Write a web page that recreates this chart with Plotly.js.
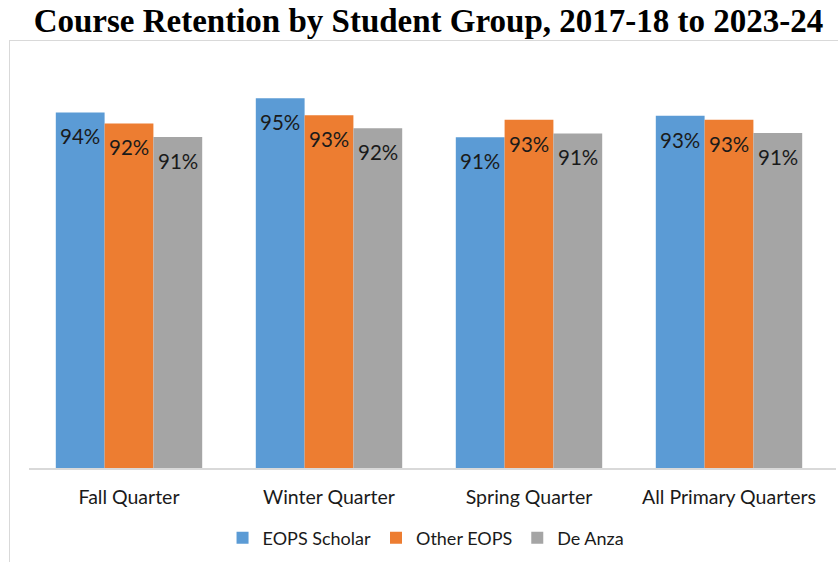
<!DOCTYPE html>
<html>
<head>
<meta charset="utf-8">
<script src="https://cdn.plot.ly/plotly-3.0.1.min.js"></script>
<style>
  html, body { margin: 0; padding: 0; background: #ffffff; }
  #wrap { position: relative; width: 838px; height: 562px; overflow: hidden; }
  #frame { position: absolute; left: 9px; top: 40px; width: 840px; height: 540px;
           border-left: 1.5px solid #d9d9d9; border-top: 1.5px solid #d9d9d9; }
  #chart { position: absolute; left: 0; top: 0; width: 838px; height: 562px; }
</style>
</head>
<body>
<div id="wrap">
  <div id="frame"></div>
  <div id="chart"></div>
</div>
<script>
// ---- data ----
const categories = ["Fall Quarter", "Winter Quarter", "Spring Quarter", "All Primary Quarters"];
const seriesNames = ["EOPS Scholar", "Other EOPS", "De Anza"];
const eopsScholar = [93.73, 95.38, 90.82, 93.33];
const otherEops   = [92.44, 93.41, 92.86, 92.86];
const deAnza      = [90.86, 91.88, 91.26, 91.33];
const seriesColors = ["#5B9BD5", "#ED7D31", "#A5A5A5"];

const allSeries = [eopsScholar, otherEops, deAnza];

const traces = allSeries.map((vals, i) => ({
  type: "bar",
  name: seriesNames[i],
  x: categories,
  y: vals,
  marker: { color: seriesColors[i], line: { width: 0 } },
  hoverinfo: "skip"
}));

// data labels as annotations (positioned through the axis scales)
const barGap = 0.268;
const plotLeft = 29, plotRight = 2, W = 838;
const xRange = [-0.5, 3.535];
const catPx = (W - plotLeft - plotRight) / (xRange[1] - xRange[0]);
const barPx = catPx * (1 - barGap) / allSeries.length;

const annotations = [];
allSeries.forEach((vals, i) => {
  vals.forEach((v, j) => {
    annotations.push({
      x: categories[j], y: v, xref: "x", yref: "y",
      text: Math.round(v) + "%",
      showarrow: false,
      xanchor: "center", yanchor: "top",
      xshift: (i - 1) * barPx,
      yshift: -10,
      font: { family: "Lato, 'Open Sans', sans-serif", size: 20.5, color: "#1a1a1a" }
    });
  });
});

const layout = {
  width: 838, height: 562,
  paper_bgcolor: "rgba(0,0,0,0)",
  plot_bgcolor: "rgba(0,0,0,0)",
  margin: { l: plotLeft, r: plotRight, t: 59, b: 94 },
  title: {
    text: "<b>Course Retention by Student Group, 2017-18 to 2023-24</b>",
    font: { family: "'Liberation Serif', 'DejaVu Serif', serif", size: 33, color: "#000000" },
    x: 0.495, xanchor: "center", xref: "paper",
    y: 1 - 20 / 562, yanchor: "middle", yref: "container"
  },
  barmode: "group",
  bargap: barGap,
  bargroupgap: 0,
  xaxis: {
    type: "category",
    range: xRange,
    showline: true, linecolor: "#d9d9d9", linewidth: 1.5,
    showgrid: false, zeroline: false, ticks: "",
    ticklabelstandoff: 11,
    tickfont: { family: "Lato, 'Open Sans', sans-serif", size: 19.5, color: "#1a1a1a" },
    fixedrange: true
  },
  yaxis: {
    range: [52, 100],
    visible: false,
    showgrid: false, zeroline: false,
    fixedrange: true
  },
  showlegend: true,
  legend: {
    orientation: "h",
    x: 0.492, xanchor: "center",
    y: -0.171, yanchor: "middle",
    font: { family: "Lato, 'Open Sans', sans-serif", size: 18, color: "#1a1a1a" },
    traceorder: "normal",
    itemclick: false, itemdoubleclick: false
  },
  annotations: annotations
};

Plotly.newPlot("chart", traces, layout, { displayModeBar: false, staticPlot: true });
</script>
</body>
</html>
